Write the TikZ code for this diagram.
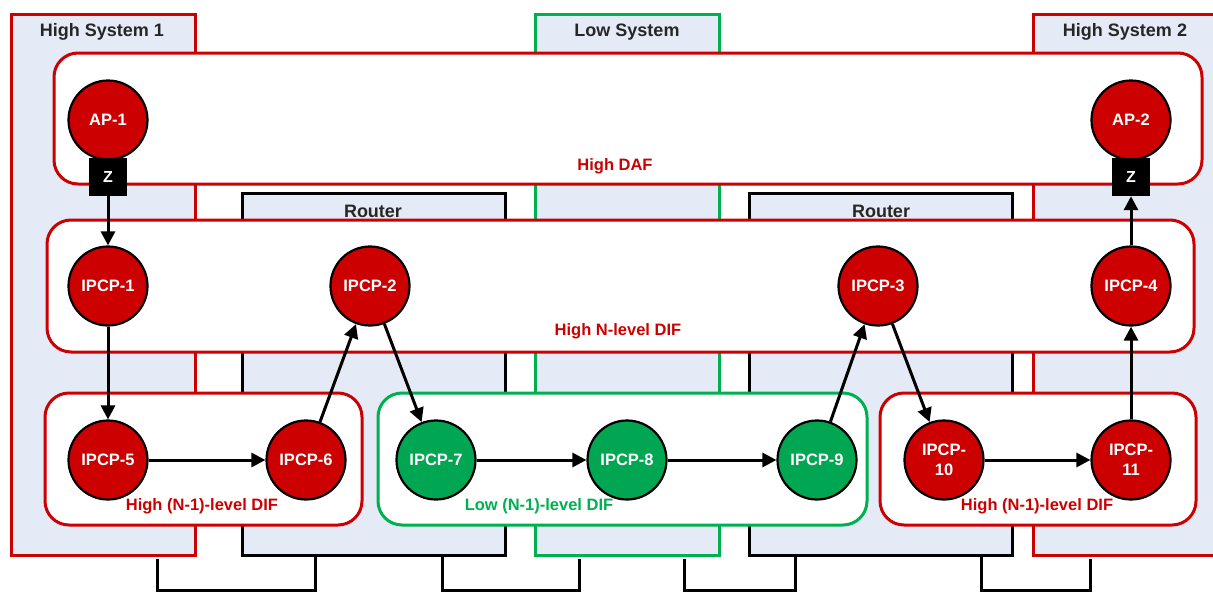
\documentclass[tikz,border=0pt]{standalone}
\usepackage{fontspec}
\setmainfont{Liberation Sans}
\usetikzlibrary{arrows.meta}
\definecolor{hired}{RGB}{204,0,0}
\definecolor{logreen}{RGB}{0,176,80}
\definecolor{ipgreen}{RGB}{0,166,81}
\definecolor{sysfill}{RGB}{229,235,246}
\begin{document}
\begin{tikzpicture}[x=1pt,y=-1pt,
  sysbox/.style={line width=3pt, fill=sysfill},
  syslabel/.style={font=\fontsize{18}{20}\selectfont\bfseries, text=black!85},
  layer/.style={line width=3pt, fill=white, rounded corners=24pt},
  layerlabel/.style={font=\fontsize{16.5}{18}\selectfont\bfseries},
  proc/.style={circle, draw=black, line width=2.2pt, minimum size=79pt, inner sep=0pt,
    font=\fontsize{16.5}{20}\selectfont\bfseries, text=white, align=center},
  redproc/.style={proc, fill=hired},
  greenproc/.style={proc, fill=ipgreen},
  zbox/.style={fill=black, minimum size=38pt, inner sep=0pt, text=white,
    font=\fontsize{16}{18}\selectfont\bfseries},
  flow/.style={line width=3pt, -{Triangle[length=14pt,width=14pt]}},
  cable/.style={line width=3pt, line join=miter}
]
\useasboundingbox (0,0) rectangle (1213,592);

% ---- systems and routers ----
\draw[sysbox, draw=hired]   (11,14) rectangle (195,555);
\draw[sysbox, draw=logreen] (535,14) rectangle (719,555);
\draw[sysbox, draw=hired]   (1033,14) rectangle (1218,555);
\draw[sysbox, draw=black]   (242,193) rectangle (505,555);
\draw[sysbox, draw=black]   (749,193) rectangle (1012,555);
\node[syslabel] (lhs1) at (102,32) {High System 1};
\node[syslabel] (llow) at (627,32) {Low System};
\node[syslabel] (lhs2) at (1125,32) {High System 2};
\node[syslabel] (lr1)  at (373,211) {Router};
\node[syslabel] (lr2)  at (881,211) {Router};

% ---- physical cabling below the boxes ----
\coordinate (c1a) at (157,559); \coordinate (c1b) at (315,555);
\coordinate (c2a) at (442,555); \coordinate (c2b) at (579,559);
\coordinate (c3a) at (684,559); \coordinate (c3b) at (795,555);
\coordinate (c4a) at (981,555); \coordinate (c4b) at (1090,559);
\foreach \a/\b in {c1a/c1b, c2a/c2b, c3a/c3b, c4a/c4b}
  \draw[cable] (\a) -- (\a |- 0,590) -- (\b |- 0,590) -- (\b);

% ---- layers ----
\draw[layer, draw=hired]   (54,53)  rectangle (1202,184);
\draw[layer, draw=hired]   (47,220) rectangle (1194,352);
\draw[layer, draw=hired]   (45,393) rectangle (362,525);
\draw[layer, draw=logreen] (378,393) rectangle (867,525);
\draw[layer, draw=hired]   (880,393) rectangle (1196,525);
\node[layerlabel, text=hired]   (ldaf) at (615,166) {High DAF};
\node[layerlabel, text=hired]   (ldif) at (618,331) {High N-level DIF};
\node[layerlabel, text=hired]   (lh1)  at (202,506) {High (N-1)-level DIF};
\node[layerlabel, text=logreen] (llo)  at (539,506) {Low (N-1)-level DIF};
\node[layerlabel, text=hired]   (lh2)  at (1037,506) {High (N-1)-level DIF};

% ---- processes ----
\node[redproc] (ap1) at (108,120) {AP-1};
\node[redproc] (ap2) at (1131,120) {AP-2};
\node[zbox] (z1) at (108,177) {Z};
\node[zbox] (z2) at (1131,177) {Z};

\node[redproc] (p1) at (108,286) {IPCP-1};
\node[redproc] (p2) at (370,286) {IPCP-2};
\node[redproc] (p3) at (878,286) {IPCP-3};
\node[redproc] (p4) at (1131,286) {IPCP-4};

\node[redproc]   (p5)  at (108,460) {IPCP-5};
\node[redproc]   (p6)  at (306,460) {IPCP-6};
\node[greenproc] (p7)  at (436,460) {IPCP-7};
\node[greenproc] (p8)  at (627,460) {IPCP-8};
\node[greenproc] (p9)  at (817,460) {IPCP-9};
\node[redproc]   (p10) at (944,460) {IPCP-\\10};
\node[redproc]   (p11) at (1131,460) {IPCP-\\11};

% ---- data path ----
\draw[flow] (z1) -- (p1);
\draw[flow] (p1) -- (p5);
\draw[flow] (p5) -- (p6);
\draw[flow] (p6) -- (p2);
\draw[flow] (p2) -- (p7);
\draw[flow] (p7) -- (p8);
\draw[flow] (p8) -- (p9);
\draw[flow] (p9) -- (p3);
\draw[flow] (p3) -- (p10);
\draw[flow] (p10) -- (p11);
\draw[flow] (p11) -- (p4);
\draw[flow] (p4) -- (z2);
\end{tikzpicture}
\end{document}
